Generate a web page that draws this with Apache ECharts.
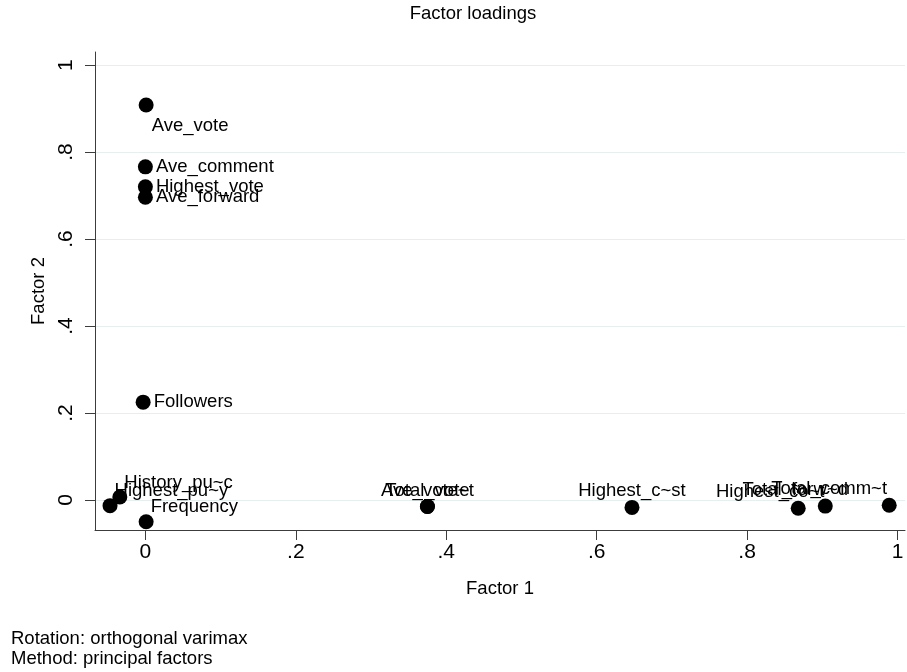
<!DOCTYPE html>
<html>
<head>
<meta charset="utf-8">
<script src="https://cdn.jsdelivr.net/npm/echarts@6/dist/echarts.min.js"></script>
<style>
  html, body { margin: 0; padding: 0; background: #ffffff; }
  #chart { width: 907px; height: 672px; }
</style>
</head>
<body>
<div id="chart"></div>
<script>
// Rotated factor loadings (orthogonal varimax, principal factors)
const variables = [
  "Ave_vote", "Ave_comment", "Highest_vote", "Ave_forward", "Followers",
  "History_pu~c", "Highest_pu~y", "Frequency",
  "Total_vote", "Ave_vote~t", "Highest_c~st",
  "Highest_co~t", "Total_forw~d", "Total_comm~t"
];
const factor1 = [
  0.001, 0.000, 0.000, 0.000, -0.003,
  -0.034, -0.047, 0.001,
  0.375, 0.375, 0.647,
  0.868, 0.904, 0.989
];
const factor2 = [
  0.908, 0.766, 0.720, 0.696, 0.225,
  0.007, -0.013, -0.050,
  -0.015, -0.015, -0.017,
  -0.019, -0.014, -0.012
];
const tickValues = [0, 0.2, 0.4, 0.6, 0.8, 1];
const tickLabels = ["0", ".2", ".4", ".6", ".8", "1"];

// Marker-label placement, Stata clock style (3 = right, 12 = above, ...)
const labelClock = [4, 3, 3, 3, 3, 2, 2, 2, 12, 12, 12, 12, 12, 12];
const labelNudgeX = [0, 0, 0, 0, 0, 0, 0, 0, 0, 0, 0, -28, -30, -60];

const FONT = "'Liberation Sans', Arial, Helvetica, sans-serif";
const INK = "#000000";
const AXIS = "#3c3c3c";

function labelFor(clock, nudge) {
  const base = { show: true, formatter: "{b}", color: INK, fontFamily: FONT, fontSize: 18.5, distance: 3 };
  if (clock === 3) return Object.assign(base, { position: "right", offset: [0, 0] });
  if (clock === 4) return Object.assign(base, { position: "right", offset: [-5, 20.5] });
  if (clock === 2) return Object.assign(base, { position: "right", offset: [-6, -14.5] });
  return Object.assign(base, { position: "inside", align: "center", offset: [nudge, -16] });
}

const points = variables.map((name, i) => ({
  name: name,
  value: [factor1[i], factor2[i]],
  label: labelFor(labelClock[i], labelNudgeX[i])
}));

function tickText(v) {
  const k = tickValues.findIndex(t => Math.abs(t - v) < 1e-9);
  return k >= 0 ? tickLabels[k] : "";
}

const chart = echarts.init(document.getElementById("chart"), null, { renderer: "canvas" });

chart.setOption({
  animation: false,
  backgroundColor: "#ffffff",
  textStyle: { fontFamily: FONT },
  grid: { left: 95, right: 2, top: 52, bottom: 142, containLabel: false, outerBoundsMode: "none" },
  xAxis: {
    type: "value",
    min: -0.067,
    max: 1.01,
    name: "Factor 1",
    nameLocation: "middle",
    nameGap: 49,
    nameTextStyle: { color: INK, fontSize: 18.5, fontFamily: FONT },
    axisLine: { show: true, onZero: false, lineStyle: { color: AXIS, width: 1 } },
    axisTick: { show: true, length: 10, customValues: tickValues, lineStyle: { color: AXIS } },
    axisLabel: { customValues: tickValues, formatter: tickText, color: INK, fontSize: 21, fontFamily: FONT, margin: 12 },
    splitLine: { show: false }
  },
  yAxis: {
    type: "value",
    min: -0.069,
    max: 1.03,
    name: "Factor 2",
    nameLocation: "middle",
    nameRotate: 90,
    nameGap: 33,
    nameTextStyle: { color: INK, fontSize: 18.5, fontFamily: FONT },
    axisLine: { show: true, onZero: false, lineStyle: { color: AXIS, width: 1 } },
    axisTick: { show: true, length: 10, customValues: tickValues, lineStyle: { color: AXIS } },
    axisLabel: { customValues: tickValues, formatter: tickText, rotate: 90, color: INK, fontSize: 21, fontFamily: FONT, margin: 18 },
    splitLine: { show: true, lineStyle: { color: "#e6eef0", width: 1 } }
  },
  series: [{
    type: "scatter",
    symbol: "circle",
    symbolSize: 15,
    itemStyle: { color: INK, opacity: 1 },
    emphasis: { disabled: true },
    data: points
  }],
  graphic: [
    { type: "text", x: 473, y: 14, style: { text: "Factor loadings", align: "center", verticalAlign: "middle", fill: INK, fontSize: 18.5, fontFamily: FONT } },
    { type: "text", x: 11, y: 639, style: { text: "Rotation: orthogonal varimax", align: "left", verticalAlign: "middle", fill: INK, fontSize: 18.5, fontFamily: FONT } },
    { type: "text", x: 11, y: 659, style: { text: "Method: principal factors", align: "left", verticalAlign: "middle", fill: INK, fontSize: 18.5, fontFamily: FONT } }
  ]
});
</script>
</body>
</html>
